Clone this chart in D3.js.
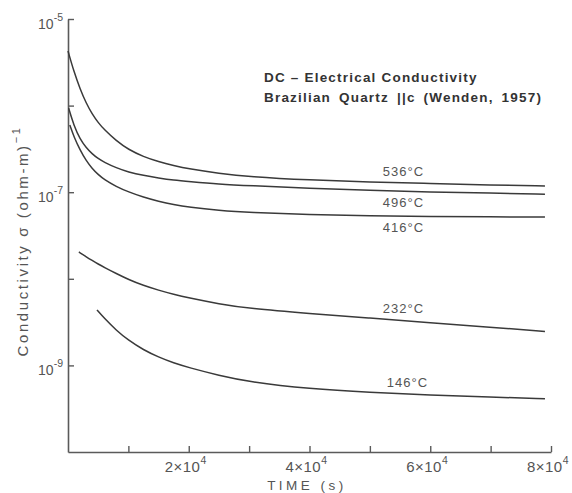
<!DOCTYPE html>
<html>
<head>
<meta charset="utf-8">
<script src="https://cdn.jsdelivr.net/npm/d3@7"></script>
<style>
  body { margin: 0; background: #fff; }
  svg { display: block; }
  text { font-family: "Liberation Sans", Arial, sans-serif; fill: #555; }
</style>
</head>
<body>
<svg id="chart" width="572" height="493"></svg>
<script>
// Time values (s) at which each curve was read
const time536 = [0, 1000, 2000, 3000, 4000, 5000, 6000, 8000, 10000, 12500, 15000, 17500, 20000, 25000, 30000, 40000, 50000, 60000, 70000, 79000];
const sigma536 = [4.27e-6, 2.44e-6, 1.56e-6, 1.07e-6, 8.0e-7, 6.36e-7, 5.28e-7, 3.92e-7, 3.11e-7, 2.57e-7, 2.25e-7, 2.03e-7, 1.86e-7, 1.65e-7, 1.51e-7, 1.38e-7, 1.31e-7, 1.26e-7, 1.21e-7, 1.18e-7];

const time496 = [100, 1000, 2000, 3000, 4000, 5000, 6000, 8000, 10000, 12500, 15000, 17500, 20000, 25000, 30000, 40000, 50000, 60000, 70000, 79000];
const sigma496 = [9.37e-7, 5.81e-7, 4.11e-7, 3.27e-7, 2.77e-7, 2.44e-7, 2.22e-7, 1.91e-7, 1.71e-7, 1.56e-7, 1.46e-7, 1.38e-7, 1.33e-7, 1.24e-7, 1.19e-7, 1.11e-7, 1.05e-7, 1.00e-7, 9.8e-8, 9.5e-8];

const time416 = [300, 1000, 2000, 3000, 4000, 5000, 6000, 8000, 10000, 12500, 15000, 17500, 20000, 25000, 30000, 40000, 50000, 60000, 70000, 79000];
const sigma416 = [5.97e-7, 4.34e-7, 3.07e-7, 2.32e-7, 1.88e-7, 1.60e-7, 1.40e-7, 1.16e-7, 1.01e-7, 8.75e-8, 7.85e-8, 7.19e-8, 6.73e-8, 6.17e-8, 5.83e-8, 5.52e-8, 5.32e-8, 5.24e-8, 5.19e-8, 5.16e-8];

const time232 = [1800, 3000, 4000, 5000, 6000, 8000, 10000, 12500, 15000, 17500, 20000, 25000, 30000, 40000, 50000, 60000, 70000, 79000];
const sigma232 = [2.04e-8, 1.80e-8, 1.63e-8, 1.48e-8, 1.355e-8, 1.15e-8, 9.82e-9, 8.36e-9, 7.38e-9, 6.61e-9, 6.03e-9, 5.13e-9, 4.54e-9, 3.97e-9, 3.52e-9, 3.12e-9, 2.75e-9, 2.47e-9];

const time146 = [4800, 6000, 8000, 10000, 12500, 15000, 17500, 20000, 25000, 30000, 40000, 50000, 60000, 70000, 79000];
const sigma146 = [4.37e-9, 3.51e-9, 2.54e-9, 1.95e-9, 1.51e-9, 1.245e-9, 1.067e-9, 9.44e-10, 7.67e-10, 6.46e-10, 5.35e-10, 4.86e-10, 4.55e-10, 4.31e-10, 4.11e-10];

const seriesLabels = ["536°C", "496°C", "416°C", "232°C", "146°C"];
// label anchor (time, conductivity) for each curve label
const labelTime = [52150, 52150, 52150, 52150, 52800];
const labelSigma = [1.52e-7, 6.75e-8, 3.47e-8, 4.03e-9, 5.64e-10];

const xTickValues = [10000, 20000, 30000, 40000, 50000, 60000, 70000, 80000];
const xTickLabels = {20000: ["2×10", "4"], 40000: ["4×10", "4"], 60000: ["6×10", "4"], 80000: ["8×10", "4"]};
const yTickValues = [1e-5, 1e-6, 1e-7, 1e-8, 1e-9];
const yTickLabels = {"-5": ["10", "-5"], "-7": ["10", "-7"], "-9": ["10", "-9"]};

const titleLines = ["DC – Electrical Conductivity", "Brazilian Quartz ||c (Wenden, 1957)"];

const svg = d3.select("#chart");
const x = d3.scaleLinear().domain([0, 80000]).range([68, 551]);
const y = d3.scaleLog().domain([1e-10, 1e-5]).range([452, 19]);

const axisColor = "#5a5a5a";

// axes
const xAxis = svg.append("g").attr("transform", "translate(0,452)")
  .call(d3.axisBottom(x).tickValues(xTickValues).tickSizeInner(-6).tickSizeOuter(0).tickFormat(""));
const yAxis = svg.append("g").attr("transform", "translate(68,0)")
  .call(d3.axisLeft(y).tickValues(yTickValues).tickSizeInner(-6).tickSizeOuter(0).tickFormat(""));
[xAxis, yAxis].forEach(g => {
  g.select(".domain").attr("stroke", axisColor).attr("stroke-width", 1.6);
  g.selectAll(".tick line").attr("stroke", axisColor).attr("stroke-width", 1.4);
});

// x tick labels
xTickValues.filter(v => xTickLabels[v]).forEach(v => {
  const t = svg.append("text").attr("x", x(v) - 3).attr("y", 472)
    .attr("text-anchor", "middle").attr("font-size", 15).attr("letter-spacing", 0.5);
  t.append("tspan").text(xTickLabels[v][0]);
  t.append("tspan").attr("dy", -8).attr("font-size", 10.5).text(xTickLabels[v][1]);
});

// y tick labels
yTickValues.forEach(v => {
  const k = String(Math.round(Math.log10(v)));
  if (!yTickLabels[k]) return;
  const t = svg.append("text").attr("x", 63).attr("y", y(v) + 10)
    .attr("text-anchor", "end").attr("font-size", 14);
  t.append("tspan").text(yTickLabels[k][0]);
  t.append("tspan").attr("dy", -8).attr("font-size", 10.5).text(yTickLabels[k][1]);
});

// axis titles
svg.append("text").attr("x", 307).attr("y", 490).attr("text-anchor", "middle")
  .attr("font-size", 13.5).attr("letter-spacing", 3.5).text("TIME  (s)");

const yl = svg.append("text").attr("transform", "translate(28,241) rotate(-90)")
  .attr("text-anchor", "middle").attr("font-size", 15).attr("letter-spacing", 2.6);
yl.append("tspan").text("Conductivity   σ (ohm-m)");
yl.append("tspan").attr("dy", -8).attr("font-size", 11).text("−1");

// curves
const series = [
  [time536, sigma536], [time496, sigma496], [time416, sigma416], [time232, sigma232], [time146, sigma146]
];
const line = d3.line().x(d => x(d[0])).y(d => y(d[1])).curve(d3.curveBasis);
series.forEach(([ts, ss]) => {
  svg.append("path").datum(ts.map((t, i) => [t, ss[i]]))
    .attr("d", line).attr("fill", "none").attr("stroke", "#3a3a3a").attr("stroke-width", 1.5);
});

// curve labels
seriesLabels.forEach((lab, i) => {
  svg.append("text").attr("x", x(labelTime[i])).attr("y", y(labelSigma[i]))
    .attr("font-size", 13).attr("letter-spacing", 1.0).text(lab);
});

// title
titleLines.forEach((s, i) => {
  svg.append("text").attr("x", 264).attr("y", 82 + i * 20)
    .attr("font-size", 13.5).attr("font-weight", "bold").attr("letter-spacing", 1.2)
    .attr("word-spacing", i === 1 ? 3 : 0)
    .style("fill", "#333").text(s);
});
</script>
</body>
</html>
